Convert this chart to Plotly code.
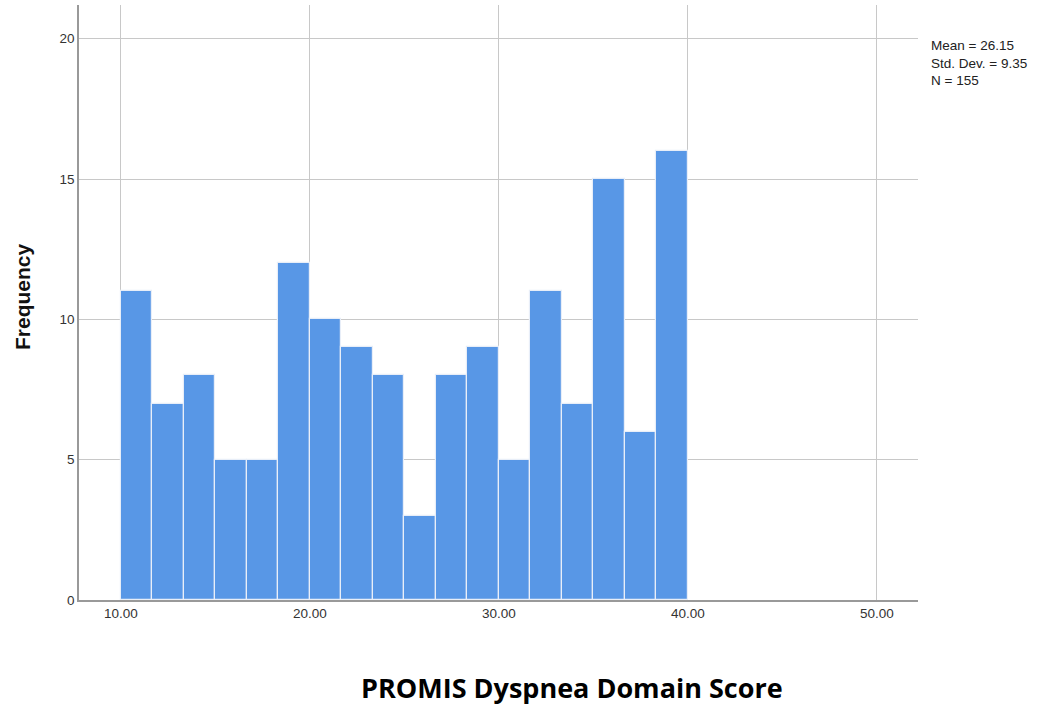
import plotly.graph_objects as go

bin_start = 10.0
bin_end = 40.0
counts = [11, 7, 8, 5, 5, 12, 10, 9, 8, 3, 8, 9, 5, 11, 7, 15, 6, 16]
x_ticks = [10, 20, 30, 40, 50]
x_ticklabels = ["10.00", "20.00", "30.00", "40.00", "50.00"]
y_ticks = [0, 5, 10, 15, 20]
stats_text = "Mean = 26.15<br>Std. Dev. = 9.35<br>N = 155"

n = len(counts)
w = (bin_end - bin_start) / n
centers = [bin_start + w * (i + 0.5) for i in range(n)]

W, H = 1046, 708
l, r, t, b = 79, 128, 5, 108
pw, ph = W - l - r, H - t - b

fig = go.Figure()
fig.add_trace(go.Bar(
    x=centers, y=counts, width=[w] * n,
    marker=dict(color="#5897e6", line=dict(color="#e8eef8", width=1.2)),
    hoverinfo="x+y",
))

fig.update_layout(
    width=W, height=H,
    margin=dict(l=l, r=r, t=t, b=b),
    plot_bgcolor="white", paper_bgcolor="white",
    showlegend=False,
    bargap=0,
    font=dict(family="Liberation Sans, Arial", size=13, color="#333333"),
)
fig.update_xaxes(
    range=[7.78, 52.17], tickvals=x_ticks, ticktext=x_ticklabels,
    showgrid=True, gridcolor="#c8c8c8", gridwidth=1.2,
    showline=True, linecolor="#999999", linewidth=1.5,
    ticks="", zeroline=False, tickfont=dict(size=13.5, color="#333333"),
)
fig.update_yaxes(
    range=[0, 21.2], tickvals=y_ticks,
    showgrid=True, gridcolor="#c8c8c8", gridwidth=1.2,
    showline=True, linecolor="#999999", linewidth=1.5,
    ticks="", zeroline=False, tickfont=dict(size=13.5, color="#333333"),
)


def px(x):
    return (x - l) / pw


def py(y):
    return (H - b - y) / ph


fig.add_annotation(
    x=px(22), y=py(297), xref="paper", yref="paper", text="<b>Frequency</b>",
    showarrow=False, textangle=-90, xanchor="center", yanchor="middle",
    font=dict(family="Liberation Sans, Arial", size=21, color="#111111"),
)
fig.add_annotation(
    x=px(572), y=py(687), xref="paper", yref="paper",
    text="<b>PROMIS Dyspnea Domain Score</b>",
    showarrow=False, xanchor="center", yanchor="middle",
    font=dict(family="Open Sans", size=27, color="#000000"),
)
fig.add_annotation(
    x=px(929), y=py(36), xref="paper", yref="paper", text=stats_text,
    showarrow=False, xanchor="left", yanchor="top", align="left",
    font=dict(family="Liberation Sans, Arial", size=13.5, color="#222222"),
)

fig.write_html("out.html", config={"displayModeBar": False},
               post_script="document.body.style.margin='0';")
